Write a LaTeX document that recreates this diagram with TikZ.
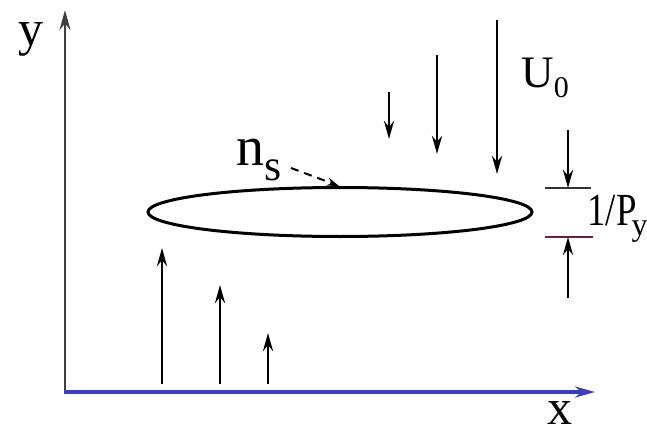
\documentclass[tikz,border=0pt]{standalone}
\usepackage{fontspec}
\setmainfont{Liberation Serif}
\usetikzlibrary{arrows.meta}
\definecolor{axisblue}{RGB}{60,60,190}
\definecolor{barred}{RGB}{110,30,60}
\newcommand{\fs}[1]{\fontsize{#1}{#1}\selectfont}
\begin{document}
\begin{tikzpicture}[x=0.5pt, y=-0.5pt, font=\fs{25},
    flow/.style={line width=1.4pt, -{Stealth[length=9pt,width=5pt]}},
    lbl/.style={inner sep=0pt, anchor=base west}]
    \useasboundingbox (0,0) rectangle (647,433);
    % axes
    \draw[line width=1.4pt, gray!50!black, -{Stealth[length=10pt,width=5.5pt]}] (65,393) -- (65,10);
    \draw[line width=1.6pt, axisblue, -{Stealth[length=10pt,width=5.5pt]}] (64,392) -- (595,392);
    \node[lbl] (ylabel) at (18,46) {y};
    \node[lbl] (xlabel) at (547,424) {x};
    % the sheet
    \draw[line width=1.5pt] (340,212) ellipse [x radius=192, y radius=24.5];
    \node[lbl, font=\fs{28}] (ns) at (236,165) {n\raisebox{-7.5pt}{\fs{22}s}};
    \coordinate (nsfrom) at (291,168);
    \coordinate (nstip) at (339,186);
    \draw[line width=1pt, dash pattern=on 4pt off 3pt, -{Stealth[length=6pt,width=4pt]}] (nsfrom) -- (nstip);
    % flow from below and from above
    \foreach \x/\y in {162/248, 220/285, 268/333} {
        \draw[flow] (\x,384) -- (\x,\y);
    }
    \foreach \x/\y/\t in {389/92/139, 437/55/154, 497/20/174} {
        \draw[flow] (\x,\y) -- (\x,\t);
    }
    \node[lbl, font=\fs{22.5}] (u0) at (521,88) {U\raisebox{-5pt}{\fs{15}0}};
    % thickness of the sheet
    \coordinate (topbar) at (568,188);
    \coordinate (botbar) at (568,237);
    \draw[line width=1.3pt, black!80] (topbar) ++(-23,0) -- ++(46,0);
    \draw[line width=1.3pt, barred] (botbar) ++(-23,0) -- ++(48,0);
    \draw[flow] (568,130) -- (topbar);
    \draw[flow] (568,298) -- (botbar);
    \node[lbl, font=\fs{23}] (py) at (587,225) {\scalebox{0.8}[1]{1/P}\kern-2.5pt\raisebox{-5pt}{\fs{16}y}};
\end{tikzpicture}
\end{document}
